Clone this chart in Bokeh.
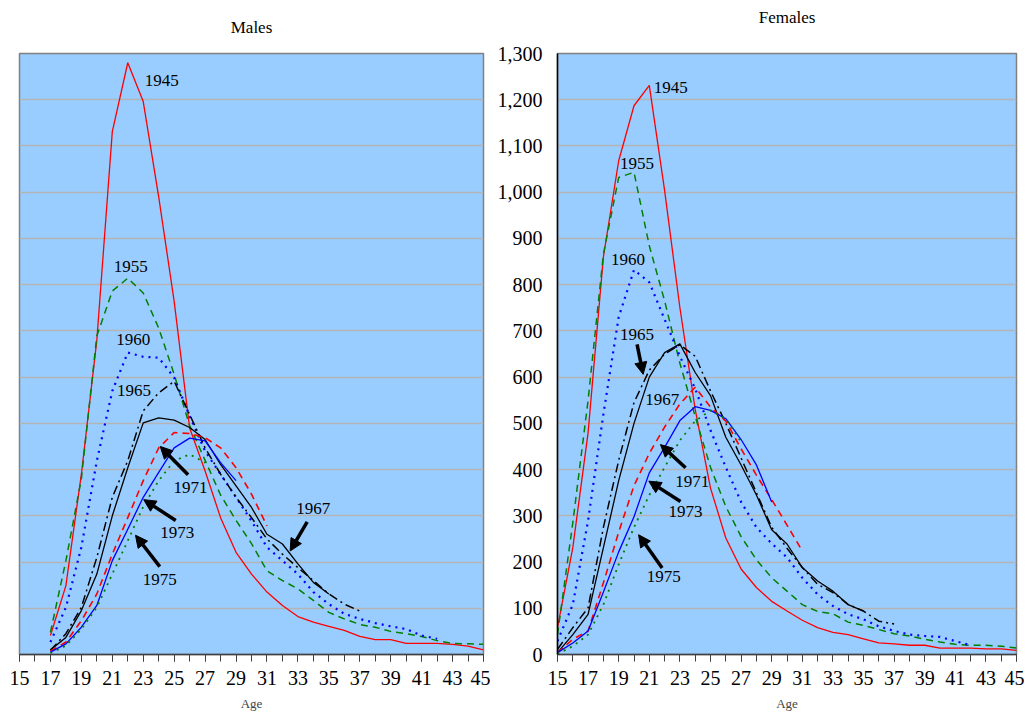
from bokeh.plotting import figure
from bokeh.models import (FixedTicker, NumeralTickFormatter, Range1d, Label,
                          Arrow, NormalHead, LinearAxis)
from bokeh.layouts import row
from bokeh.embed import file_html
from bokeh.resources import INLINE

FONT = "Liberation Serif"

# ---------------- data ----------------
cohorts = ["1945", "1955", "1960", "1965", "1967", "1971", "1973", "1975"]
x_ticks = list(range(15, 46, 2))
y_ticks = list(range(0, 1301, 100))

# Males: every series starts at age 17
male_start_age = 17
m1945 = [41, 149, 390, 680, 1131, 1280, 1196, 990, 764, 490, 397, 296, 221, 174, 135,
         106, 82, 70, 61, 52, 39, 32, 32, 24, 24, 24, 22, 18, 10]
m1955 = [48, 203, 380, 689, 786, 814, 782, 706, 606, 495, 420, 345, 290, 240, 181,
         160, 142, 117, 91, 77, 65, 59, 50, 45, 39, 30, 24, 23, 22]
m1960 = [27, 102, 232, 419, 570, 653, 644, 642, 599, 516, 440, 390, 340, 289, 232,
         203, 174, 135, 109, 88, 77, 68, 61, 55, 41, 34]
m1965 = [9, 45, 102, 210, 340, 419, 527, 566, 591, 519, 447, 390, 340, 296, 250,
         217, 188, 160, 131, 109, 94]
m1967 = [10, 37, 95, 174, 300, 404, 501, 512, 507, 491, 465, 411, 365, 318, 260,
         239, 196, 156, 131]
m1971 = [7, 27, 73, 131, 217, 296, 376, 447, 480, 478, 469, 447, 404, 347, 278]
m1973 = [5, 23, 59, 106, 203, 271, 340, 394, 447, 468, 462, 415, 376]
m1975 = [3, 19, 55, 102, 174, 246, 320, 376, 419, 433, 415]

# Females: every series starts at age 15
female_start_age = 15
f1945 = [58, 231, 480, 860, 1068, 1187, 1231, 1004, 750, 530, 360, 252, 185, 145, 115,
         94, 74, 58, 48, 43, 34, 25, 23, 20, 20, 14, 14, 14, 12, 12, 9]
f1955 = [43, 285, 550, 866, 1032, 1043, 884, 765, 630, 515, 405, 320, 255, 205, 166,
         137, 108, 93, 88, 70, 63, 54, 45, 40, 33, 27, 22, 20, 20, 18, 14]
f1960 = [29, 108, 290, 520, 730, 832, 805, 725, 645, 575, 485, 405, 330, 275, 240,
         210, 166, 130, 105, 87, 76, 61, 51, 43, 40, 38, 29, 20]
f1965 = [11, 58, 101, 275, 420, 545, 615, 650, 670, 645, 570, 500, 425, 350, 275,
         230, 188, 152, 134, 108, 94, 72, 66]
f1967 = [4, 43, 87, 231, 376, 500, 600, 653, 672, 610, 560, 470, 410, 345, 270,
         239, 188, 159, 137, 108, 94]
f1971 = [4, 33, 51, 155, 265, 365, 435, 492, 542, 578, 535, 505, 445, 388, 335, 280, 224]
f1973 = [4, 25, 51, 135, 222, 298, 393, 448, 506, 536, 528, 510, 465, 410, 330]
f1975 = [1, 18, 43, 108, 195, 275, 345, 405, 463, 505, 528, 510, 460]

males = dict(zip(cohorts, [m1945, m1955, m1960, m1965, m1967, m1971, m1973, m1975]))
females = dict(zip(cohorts, [f1945, f1955, f1960, f1965, f1967, f1971, f1973, f1975]))

# ---------------- styles ----------------
styles = {
    "1945": dict(line_color="#FF0000", line_width=1.3, line_dash="solid"),
    "1955": dict(line_color="#008000", line_width=1.5, line_dash="7 5"),
    "1960": dict(line_color="#0000FF", line_width=2.2, line_dash="2 5"),
    "1965": dict(line_color="#000000", line_width=1.5, line_dash="9 4 2 4"),
    "1967": dict(line_color="#000000", line_width=1.3, line_dash="solid"),
    "1971": dict(line_color="#FF0000", line_width=1.6, line_dash="7 5"),
    "1973": dict(line_color="#0000FF", line_width=1.3, line_dash="solid"),
    "1975": dict(line_color="#008000", line_width=1.8, line_dash="2 5"),
}


def make_panel(title, data, start_age, show_y, left_border, frame_w, title_gap,
               right_border):
    p = figure(frame_width=frame_w, frame_height=601,
               x_range=Range1d(15, 45), y_range=Range1d(0, 1300),
               output_backend="svg", toolbar_location=None,
               min_border_left=left_border, min_border_right=right_border,
               min_border_top=53, min_border_bottom=62,
               background_fill_color="#99CCFF", border_fill_color="white",
               outline_line_color="#808080", outline_line_width=1.5)

    # panel title: an empty axis above the frame carrying only its label
    top = LinearAxis(ticker=FixedTicker(ticks=[]), axis_label=title,
                     axis_line_color=None, major_tick_line_color=None,
                     minor_tick_line_color=None, major_tick_out=0, major_tick_in=0,
                     minor_tick_out=0, minor_tick_in=0, major_label_standoff=0,
                     axis_label_standoff=title_gap,
                     axis_label_text_font=FONT, axis_label_text_font_size="17px",
                     axis_label_text_font_style="normal",
                     axis_label_text_color="black")
    p.add_layout(top, "above")

    p.xgrid.grid_line_color = None
    p.ygrid.grid_line_color = "#B4B4B4"
    p.ygrid.grid_line_width = 1.3
    p.ygrid.ticker = FixedTicker(ticks=y_ticks)

    xa = p.below[0]
    xa.ticker = FixedTicker(ticks=x_ticks, minor_ticks=list(range(15, 46)))
    xa.major_tick_out = 7
    xa.major_tick_in = 0
    xa.minor_tick_out = 7
    xa.minor_tick_in = 0
    xa.major_tick_line_color = "#404040"
    xa.minor_tick_line_color = "#404040"
    xa.axis_line_color = "#404040"
    xa.axis_line_width = 1.5
    xa.major_label_text_font = FONT
    xa.major_label_text_font_size = "20px"
    xa.major_label_text_color = "black"
    xa.major_label_standoff = 9
    xa.axis_label = "Age"
    xa.axis_label_text_font = FONT
    xa.axis_label_text_font_size = "13px"
    xa.axis_label_text_font_style = "normal"
    xa.axis_label_standoff = 8

    ya = p.yaxis[0]
    if show_y:
        ya.ticker = FixedTicker(ticks=y_ticks)
        ya.formatter = NumeralTickFormatter(format="0,0")
        ya.major_tick_out = 0
        ya.major_tick_in = 0
        ya.minor_tick_out = 0
        ya.minor_tick_in = 0
        ya.axis_line_color = "black"
        ya.axis_line_width = 1.5
        ya.major_label_text_font = FONT
        ya.major_label_text_font_size = "20px"
        ya.major_label_text_color = "black"
        ya.major_label_standoff = 15
    else:
        ya.visible = False

    for c in cohorts:
        vals = data[c]
        ages = list(range(start_age, start_age + len(vals)))
        p.line(ages, vals, **styles[c])
    return p


def add_label(p, x, y, text):
    p.add_layout(Label(x=x, y=y, text=text, text_align="center",
                       text_baseline="middle", text_font=FONT,
                       text_font_size="17px", text_color="black"))


def add_arrow(p, xs, ys, xe, ye):
    p.add_layout(Arrow(end=NormalHead(size=12, fill_color="black", line_color="black"),
                       x_start=xs, y_start=ys, x_end=xe, y_end=ye,
                       line_color="black", line_width=3.5))


pm = make_panel("Males", males, male_start_age, False, 19, 464, 17, 7)
add_label(pm, 24.2, 1241, "1945")
add_label(pm, 22.2, 839, "1955")
add_label(pm, 22.35, 682, "1960")
add_label(pm, 22.4, 572, "1965")
add_label(pm, 26.05, 362, "1971")
add_arrow(pm, 25.9, 389, 24.1, 450)
add_label(pm, 25.2, 264, "1973")
add_arrow(pm, 25.1, 290, 23.03, 335)
add_label(pm, 24.07, 163, "1975")
add_arrow(pm, 24.07, 190, 22.5, 258)
add_label(pm, 34.0, 316, "1967")
add_arrow(pm, 33.6, 287, 32.5, 224)

pf = make_panel("Females", females, female_start_age, True, 67, 459, 27, 8)
add_label(pf, 22.4, 1226, "1945")
add_label(pf, 20.2, 1061, "1955")
add_label(pf, 19.6, 855, "1960")
add_label(pf, 20.2, 693, "1965")
add_arrow(pf, 20.2, 671, 20.6, 606)
add_label(pf, 21.84, 552, "1967")
add_label(pf, 23.8, 375, "1971")
add_arrow(pf, 23.37, 404, 21.73, 454)
add_label(pf, 23.37, 310, "1973")
add_arrow(pf, 23.04, 331, 20.97, 375)
add_label(pf, 21.95, 169, "1975")
add_arrow(pf, 21.84, 187, 20.3, 259)

layout = row(pm, pf)
open("out.html", "w").write(file_html(layout, INLINE))
